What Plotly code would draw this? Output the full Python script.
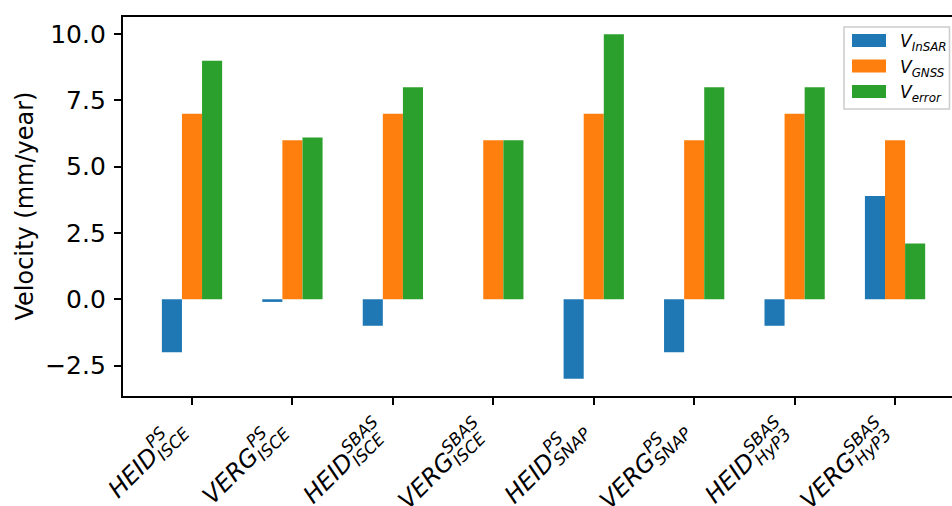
import math
import plotly.graph_objects as go

# ---- data ----
station = ["HEID", "VERG", "HEID", "VERG", "HEID", "VERG", "HEID", "VERG"]
method = ["PS", "PS", "SBAS", "SBAS", "PS", "PS", "SBAS", "SBAS"]
processor = ["ISCE", "ISCE", "ISCE", "ISCE", "SNAP", "SNAP", "HyP3", "HyP3"]
v_insar = [-2.0, -0.1, -1.0, 0.0, -3.0, -2.0, -1.0, 3.9]
v_gnss = [7.0, 6.0, 7.0, 6.0, 7.0, 6.0, 7.0, 6.0]
v_error = [9.0, 6.1, 8.0, 6.0, 10.0, 8.0, 8.0, 2.1]
series_names = ["InSAR", "GNSS", "error"]
y_ticks = [-2.5, 0.0, 2.5, 5.0, 7.5, 10.0]
y_ticktext = ["\u22122.5", "0.0", "2.5", "5.0", "7.5", "10.0"]

colors = ["#1f77b4", "#ff7f0e", "#2ca02c"]
W_IMG, H_IMG = 952, 506
L, R, T, B = 123, 0, 17, 110
PW = W_IMG - L - R
PH = H_IMG - T - B
FONT = "DejaVu Sans"
F = 24.0
S = 0.7 * F
LW = 1.67

x = list(range(len(station)))
fig = go.Figure()
for vals, col, nm in zip([v_insar, v_gnss, v_error], colors, series_names):
    fig.add_trace(go.Bar(x=x, y=vals, marker=dict(color=col, line=dict(width=0)),
                         name=nm, showlegend=False))

fig.update_layout(
    width=W_IMG, height=H_IMG,
    margin=dict(l=L, r=R, t=T, b=B, pad=0),
    paper_bgcolor="white", plot_bgcolor="white",
    barmode="group", bargap=0.4, bargroupgap=0,
    font=dict(family=FONT, size=F, color="black"),
)
fig.update_xaxes(range=[-0.687, 7.567], tickvals=x,
                 showticklabels=False, ticks="outside", ticklen=7.3, tickwidth=LW,
                 tickcolor="black", showline=True, linecolor="black", linewidth=LW,
                 mirror=True, showgrid=False, zeroline=False)
fig.update_yaxes(range=[-3.65, 10.65], tickvals=y_ticks, ticktext=y_ticktext,
                 ticks="outside", ticklen=7.3, tickwidth=LW, tickcolor="black",
                 showline=True, linecolor="black", linewidth=LW, mirror=False,
                 showgrid=False, zeroline=False, ticklabelstandoff=3,
                 tickfont=dict(size=25, family=FONT))

# y-axis title
fig.add_annotation(text="Velocity (mm/year)", textangle=-90, xref="paper", yref="paper",
                   x=0, y=0.5, xshift=24 - L, xanchor="center", yanchor="middle",
                   showarrow=False, font=dict(size=F, family=FONT, color="black"))

# x tick labels with stacked super/subscripts (rotated 45 degrees)
ADV = {"H": 1540, "E": 1294, "I": 604, "D": 1577, "V": 1401, "R": 1423, "G": 1589,
       "P": 1235, "S": 1300, "C": 1430, "N": 1532, "A": 1401, "B": 1405, "y": 1212,
       "3": 1303}


def tw(s, fs):
    return sum(ADV.get(ch, 1300) for ch in s) / 2048.0 * fs


c = math.sqrt(0.5)
END_DX, END_DY = -5.0, 35.0
SUP_V, SUB_V = 0.5 * F, -0.2 * F
SUP_GAP, SUB_GAP = 1.5, 0.5
CV = 0.35
for i, (m, sp, sb) in enumerate(zip(station, method, processor)):
    wm, wsp, wsb = tw(m, F), tw(sp, S), tw(sb, S)
    Lw = wm + max(SUP_GAP + wsp, SUB_GAP + wsb)
    pieces = [(m, 0.0, wm, 0.0, F), (sp, wm + SUP_GAP, wsp, SUP_V, S),
              (sb, wm + SUB_GAP, wsb, SUB_V, S)]
    for txt, us, w, v, fs in pieces:
        uc = us + w / 2 - Lw
        vc = v + CV * fs
        sx = END_DX + c * (uc - vc)
        sy_down = END_DY - c * (uc + vc)
        fig.add_annotation(text=f"<i>{txt}</i>", x=i, xref="x", y=0, yref="paper",
                           xshift=sx, yshift=-sy_down, textangle=-45,
                           xanchor="center", yanchor="middle", showarrow=False,
                           font=dict(size=fs, family=FONT, color="black"))


# legend (drawn manually to mimic matplotlib layout)
def px(xp):
    return (xp - L) / PW


def py(yp):
    return (H_IMG - B - yp) / PH


fig.add_shape(type="rect", xref="paper", yref="paper", x0=px(844), x1=px(949.5),
              y0=py(109), y1=py(27), line=dict(color="#cccccc", width=1.5),
              fillcolor="rgba(255,255,255,0.8)", layer="above")
for k, (nm, col) in enumerate(zip(series_names, colors)):
    yc = 40.5 + 25.5 * k
    fig.add_shape(type="rect", xref="paper", yref="paper", x0=px(852), x1=px(886),
                  y0=py(yc + 6.5), y1=py(yc - 6.5), line=dict(width=0),
                  fillcolor=col, layer="above")
    fig.add_annotation(text=f"<i>V</i><sub><i>{nm}</i></sub>", xref="paper", yref="paper",
                       x=px(898), y=py(yc + 2), xanchor="left", yanchor="middle",
                       showarrow=False, font=dict(size=17, family=FONT, color="black"))

fig.write_html("out.html")
